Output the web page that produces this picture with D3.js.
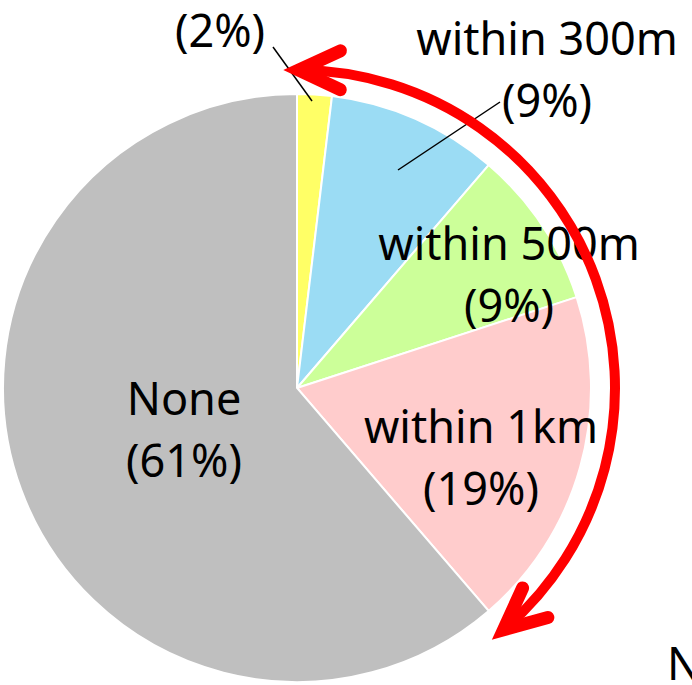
<!DOCTYPE html>
<html>
<head>
<meta charset="utf-8">
<title>pie</title>
<script src="https://d3js.org/d3.v7.min.js"></script>
<style>
  body { margin: 0; background: #fff; }
  svg text { font-family: "Noto Sans", sans-serif; font-size: 45px; fill: #000; }
</style>
</head>
<body>
<div id="chart"></div>
<script>
// data
const categories = ["other", "within 300m", "within 500m", "within 1km", "None"];
const shares = [1.9, 9.4, 8.7, 18.7, 61.3];
const pctLabels = ["(2%)", "(9%)", "(9%)", "(19%)", "(61%)"];
const nameLabels = ["", "within 300m", "within 500m", "within 1km", "None"];
const colors = ["#ffff66", "#9bdcf4", "#ccff99", "#ffcccc", "#bfbfbf"];

const width = 692, height = 685;
const cx = 297, cy = 388, radius = 294;

// label layout (center x, first baseline y)
const labelPos = [[220, 47], [547, 55], [509, 260], [481, 443], [184, 415]];
const leaders = [[[273, 47], [312, 101]], [[500, 102], [398, 170]]];

const svg = d3.select("#chart").append("svg")
  .attr("width", width)
  .attr("height", height);

const pie = d3.pie().sort(null).value(d => d);
const arc = d3.arc().innerRadius(0).outerRadius(radius);

const g = svg.append("g").attr("transform", `translate(${cx},${cy})`);

g.selectAll("path")
  .data(pie(shares))
  .enter().append("path")
  .attr("d", arc)
  .attr("fill", (d, i) => colors[i])
  .attr("stroke", "#fff")
  .attr("stroke-width", 2);

// leader lines
svg.selectAll("line.leader")
  .data(leaders)
  .enter().append("line")
  .attr("class", "leader")
  .attr("x1", d => d[0][0]).attr("y1", d => d[0][1])
  .attr("x2", d => d[1][0]).attr("y2", d => d[1][1])
  .attr("stroke", "#000")
  .attr("stroke-width", 1.5);

// labels
const labels = svg.selectAll("text.lbl")
  .data(categories)
  .enter().append("text")
  .attr("class", "lbl")
  .attr("text-anchor", "middle")
  .attr("x", (d, i) => labelPos[i][0])
  .attr("y", (d, i) => labelPos[i][1]);

labels.each(function(d, i) {
  const t = d3.select(this);
  const x = labelPos[i][0];
  if (nameLabels[i]) {
    t.append("tspan").attr("x", x).text(nameLabels[i]);
    t.append("tspan").attr("x", x).attr("dy", 62).text(pctLabels[i]);
  } else {
    t.append("tspan").attr("x", x).text(pctLabels[i]);
  }
});

// red double-headed arc
const arcR = 318, a0 = 0.3 * Math.PI / 180, a1 = 139.5 * Math.PI / 180;
const red = svg.append("g").attr("transform", `translate(${cx},${cy})`);
const p = d3.path();
p.arc(0, 0, arcR, a0 - Math.PI / 2, a1 - Math.PI / 2, false);
red.append("path")
  .attr("d", p.toString())
  .attr("fill", "none")
  .attr("stroke", "#ff0000")
  .attr("stroke-width", 10)
  .attr("stroke-linecap", "round");

function head(a, dir) {
  // tip at angle a, arms along the backward tangent
  const tip = [arcR * Math.sin(a), -arcR * Math.cos(a)];
  const tan = [Math.cos(a) * dir, Math.sin(a) * dir];
  const len = 46, spread = 25 * Math.PI / 180;
  const arm = s => {
    const c = Math.cos(s), sn = Math.sin(s);
    return [tip[0] + len * (tan[0] * c - tan[1] * sn), tip[1] + len * (tan[0] * sn + tan[1] * c)];
  };
  return [arm(spread), tip, arm(-spread)];
}

red.selectAll("polyline")
  .data([head(a0, 1), head(a1, -1)])
  .enter().append("polyline")
  .attr("points", d => d.map(q => q.join(",")).join(" "))
  .attr("fill", "none")
  .attr("stroke", "#ff0000")
  .attr("stroke-width", 13)
  .attr("stroke-linecap", "round")
  .attr("stroke-linejoin", "miter");

// cut-off N note
svg.append("text")
  .attr("x", 667)
  .attr("y", 680)
  .text("N");
</script>
</body>
</html>
